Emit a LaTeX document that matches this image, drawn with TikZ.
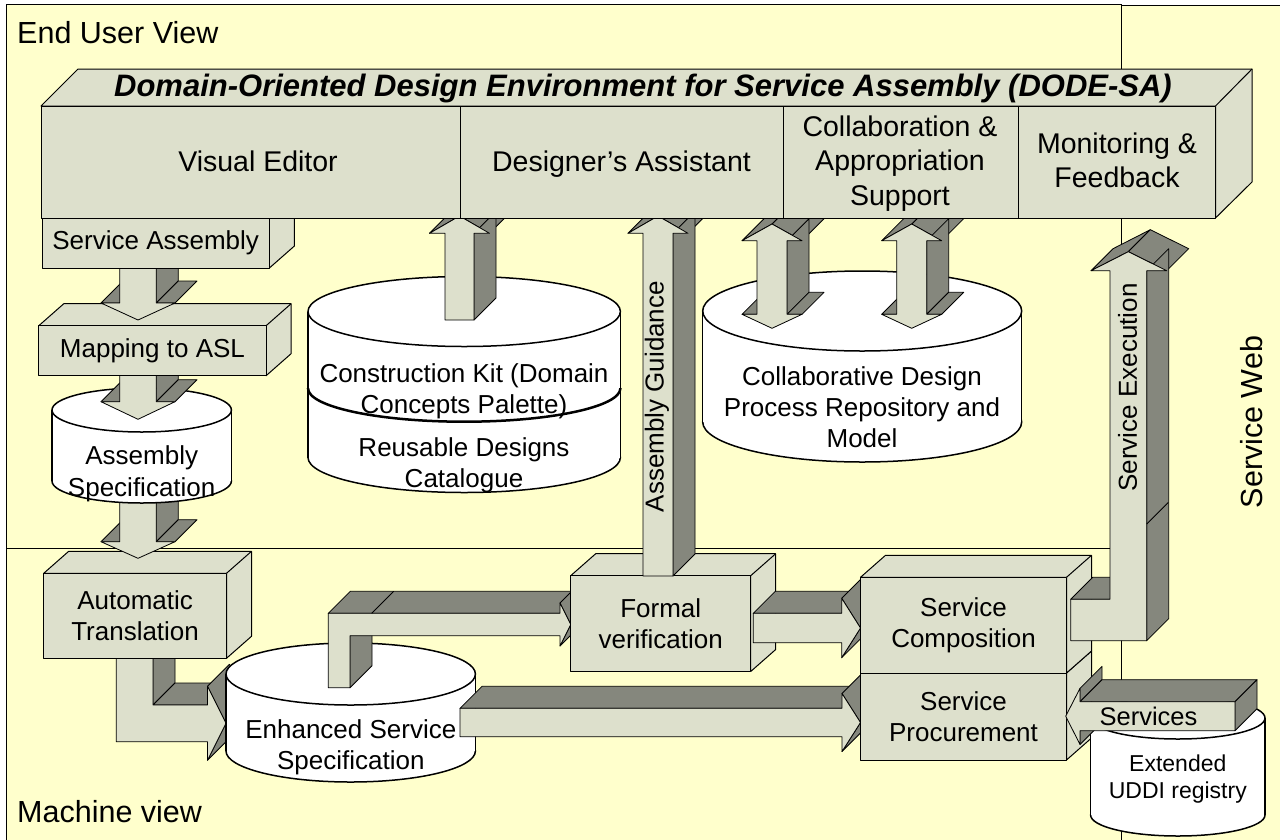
\documentclass[tikz,border=0pt]{standalone}
\usepackage{fontspec}
\setmainfont{Liberation Sans}

\definecolor{paper}{RGB}{255,255,204}
\definecolor{facecol}{RGB}{221,224,204}
\definecolor{shadecol}{RGB}{133,135,125}

\tikzset{
  panel/.style={draw=black, fill=paper, line width=0.8pt},
  face/.style={draw=black, fill=facecol, line width=1pt, line join=round},
  box/.style={face, align=center, inner sep=0pt, outer sep=0pt, font=\fontsize{26}{31}\selectfont},
  lightface/.style={draw=black, fill=facecol, line width=0.8pt, line join=round},
  darkface/.style={draw=black, fill=shadecol, line width=0.8pt, line join=round},
  drumline/.style={draw=black, fill=white, line width=1.5pt},
  txt/.style={align=center, inner sep=0pt, font=\fontsize{26}{31}\selectfont},
  celltxt/.style={align=center, inner sep=0pt, font=\fontsize{28.5}{34.5}\selectfont},
  region/.style={inner sep=0pt, font=\fontsize{30.5}{36}\selectfont},
}

% 3D box: name, left, top, right, bottom, text
\newcommand{\cube}[6]{%
  \draw[face] (#2,#3) -- ++(25,-22) -- (#4+25,#3-22) -- (#4+25,#5-22) -- (#4,#5) -- (#4,#3) -- cycle;
  \draw[face] (#4,#3) -- ++(25,-22);
  \node[box, anchor=north west, minimum width=#4pt-#2pt, minimum height=#5pt-#3pt] (#1) at (#2,#3) {#6};
}

% cylinder: cx, top centre, bottom centre, rx, ry
\newcommand{\drum}[5]{%
  \draw[drumline] (#1,#3) ellipse [x radius=#4, y radius=#5];
  \fill[white] (#1-#4,#2) rectangle (#1+#4,#3);
  \draw[line width=1.5pt] (#1-#4,#2) -- (#1-#4,#3) (#1+#4,#2) -- (#1+#4,#3);
  \draw[drumline] (#1,#2) ellipse [x radius=#4, y radius=#5];
}

% extruded block arrow, outline given clockwise and closed
\newcommand{\blockarrow}[1]{%
  \foreach \px/\py [count=\i] in {#1}{\ifnum\i=1 \xdef\fx{\px}\xdef\fy{\py}\fi}%
  \foreach \px/\py [remember=\px as \lx (initially \fx), remember=\py as \ly (initially \fy)] in {#1}{%
    \pgfmathsetmacro{\vis}{\px-\lx+\py-\ly}%
    \ifdim\vis pt>0.01pt
      \draw[darkface] (\lx,\ly) -- (\px,\py) -- ++(22,-22) -- ++(\lx-\px,\ly-\py) -- cycle;
    \fi
  }%
  \draw[lightface] (\fx,\fy) \foreach \px/\py in {#1}{-- (\px,\py)} -- cycle;
}

\begin{document}
\begin{tikzpicture}[x=1pt, y=-1pt]
\useasboundingbox (0,0) rectangle (1280,839);
\fill[white] (0,0) rectangle (1280,839);

% views
\draw[panel] (6,4) rectangle (1121,548);
\draw[panel] (6,548) rectangle (1121,845);
\draw[panel] (1121,5) rectangle (1290,845);
\node[region, anchor=west] (enduser) at (17,33) {End User View};
\node[region, anchor=west] (machine) at (17,812) {Machine view};
\node[region, rotate=90] (serviceweb) at (1252,422) {Service Web};

% left column
\blockarrow{116.3/655, 153/655, 153/705, 207.5/705, 207.5/686.3, 226/723.3, 207.5/760.3, 207.5/741.7, 116.3/741.7, 116.3/655}
\cube{autotrans}{43.7}{573.3}{226.5}{658.3}{Automatic\\Translation}
\blockarrow{119.7/500, 156.3/500, 156.3/541.7, 175/541.7, 138/558.3, 101/541.7, 119.7/541.7, 119.7/500}
\drum{141.7}{410}{481}{89.7}{22}
\node[txt, font=\fontsize{26}{32}\selectfont] (asmspec) at (141.7,473.5) {Assembly\\Specification};
\blockarrow{119.7/372, 156.3/372, 156.3/401.7, 175/401.7, 138/419.3, 101/401.7, 119.7/401.7, 119.7/372}
\cube{mapping}{38.8}{325.7}{266.1}{375.7}{Mapping to ASL}
\blockarrow{119.7/265, 156.3/265, 156.3/303, 175/303, 138/320, 101/303, 119.7/303, 119.7/265}
\cube{assembly}{42}{218}{269.4}{268}{Service Assembly}

% repositories
\drum{464.2}{311.5}{457.5}{156.2}{35}
\begin{scope}
  \clip (305,388.3) rectangle (624,430);
  \draw[line width=2.5pt] (464.2,388.3) ellipse [x radius=156.2, y radius=33.4];
\end{scope}
\node[txt] (kit) at (464,391.5) {Construction Kit (Domain\\Concepts Palette)};
\node[txt] (catalogue) at (464,465) {Reusable Designs\\Catalogue};
\blockarrow{445/320, 445/233.3, 429.5/233.3, 459.5/216, 489.5/233.3, 474/233.3, 474/320, 445/320}

\drum{862.2}{311}{422}{159.5}{40}
\node[txt] (process) at (862,407.5) {Collaborative Design\\Process Repository and\\Model};
\blockarrow{772/224, 802/240.7, 787/240.7, 787/314.3, 802/314.3, 772/328.3, 742/314.3, 757/314.3, 757/240.7, 742/240.7, 772/224}
\blockarrow{911.7/224, 941.7/240.7, 926.7/240.7, 926.7/314.3, 941.7/314.3, 911.7/328.3, 881.7/314.3, 896.7/314.3, 896.7/240.7, 881.7/240.7, 911.7/224}

% machine side
\drum{350.7}{674}{751}{124.7}{31}
\node[txt] (enhanced) at (350.8,747.5) {Enhanced Service\\Specification};
\blockarrow{328.3/687.7, 328.3/613.3, 560/613.3, 560/603, 570.7/624.5, 560/646, 560/635.7, 350/635.7, 350/687.7, 328.3/687.7}
\draw[line width=0.8pt] (371.7,613.3) -- ++(22,-22);
\blockarrow{460/708.3, 842/708.3, 842/693.5, 860.5/722.5, 842/751.5, 842/736.7, 460/736.7, 460/708.3}

\cube{formal}{570.7}{575.7}{750.7}{671.5}{Formal\\verification}
\blockarrow{643/576, 643/233.3, 628/233.3, 658/216, 688/233.3, 673/233.3, 673/576, 643/576}
\node[txt, rotate=90] (guidance) at (657,396.7) {Assembly Guidance};
\blockarrow{753.3/613.3, 841.7/613.3, 841.7/598.3, 860.5/628, 841.7/657.7, 841.7/642.7, 753.3/642.7, 753.3/613.3}

\cube{procure}{860.5}{673}{1066.5}{760}{Service\\Procurement}
\cube{compose}{860.5}{577.3}{1066.5}{673}{Service\\Composition}

\blockarrow{1070.7/599.3, 1110/599.3, 1110/270.7, 1091/270.7, 1128.3/251.7, 1166.7/270.7, 1146.7/270.7, 1146.7/640.7, 1070.7/640.7, 1070.7/599.3}
\draw[line width=0.8pt] (1146.7,524) -- ++(21.6,-21.6);
\node[txt, rotate=90] (execution) at (1127.5,387.5) {Service Execution};

\drum{1177.8}{718}{815}{87.2}{21}
\node[txt, font=\fontsize{23}{27}\selectfont] (uddi) at (1177.8,779.5) {Extended\\UDDI registry};
\blockarrow{1065.7/716.2, 1080/688.3, 1080/701.7, 1235/701.7, 1235/730.7, 1080/730.7, 1080/744.5, 1065.7/716.2}
\node[txt, font=\fontsize{25.5}{30}\selectfont] (services) at (1148.5,716.5) {Services};

% DODE-SA bar
\draw[face] (41,106) -- (78,69) -- (1252,69) -- (1252,182) -- (1215.5,218) -- (1215.5,106) -- cycle;
\draw[face] (1215.5,106) -- (1252,69);
\draw[face] (41,106) rectangle (1215.5,218);
\draw[line width=1pt] (460,106) -- (460,218) (783,106) -- (783,218) (1018,106) -- (1018,218);
\node[inner sep=0pt, font=\fontsize{31}{36}\selectfont\bfseries\itshape] (dode) at (643,88)
  {Domain-Oriented Design Environment for Service Assembly (DODE-SA)};
\node[celltxt] (editor) at (258,161.5) {Visual Editor};
\node[celltxt] (assistant) at (621.5,164) {Designer’s Assistant};
\node[celltxt] (collab) at (900,163.2) {Collaboration \&\\Appropriation\\Support};
\node[celltxt] (monitor) at (1117,160.5) {Monitoring \&\\Feedback};
\end{tikzpicture}
\end{document}
